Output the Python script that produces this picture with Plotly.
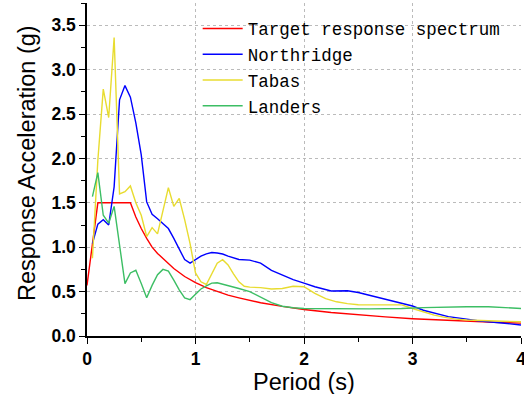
import plotly.graph_objects as go

# ---- data ----
target_T = [0.0, 0.1, 0.2, 0.3, 0.4, 0.45, 0.5, 0.55, 0.6, 0.65, 0.7, 0.8, 0.9, 1.0, 1.1, 1.2, 1.3, 1.4,
            1.5, 1.6, 1.8, 2.0, 2.25, 2.5, 2.75, 3.0, 3.25, 3.5, 3.75, 4.0]
target_S = [0.57, 1.50, 1.50, 1.50, 1.50, 1.34, 1.21, 1.10, 1.00, 0.93, 0.87, 0.76, 0.67, 0.60, 0.545, 0.50,
            0.46, 0.43, 0.40, 0.375, 0.333, 0.298, 0.265, 0.236, 0.215, 0.195, 0.180, 0.167, 0.155, 0.145]

north_T = [0.05, 0.1, 0.15, 0.2, 0.25, 0.3, 0.35, 0.4, 0.45, 0.5, 0.55, 0.6, 0.65, 0.7, 0.75, 0.8, 0.85,
           0.9, 0.95, 1.0, 1.05, 1.1, 1.15, 1.2, 1.25, 1.3, 1.35, 1.4, 1.5, 1.6, 1.7, 1.8, 1.9, 2.0, 2.1,
           2.25, 2.4, 2.5, 2.6, 2.7, 2.8, 2.9, 3.0, 3.1, 3.2, 3.33, 3.5, 3.6, 3.8, 4.0]
north_S = [1.04, 1.26, 1.31, 1.25, 1.68, 2.66, 2.82, 2.69, 2.40, 2.04, 1.51, 1.37, 1.32, 1.27, 1.21, 1.10, 0.98,
           0.86, 0.82, 0.86, 0.90, 0.925, 0.94, 0.935, 0.923, 0.90, 0.88, 0.862, 0.855, 0.82, 0.74, 0.69, 0.635,
           0.595, 0.555, 0.507, 0.51, 0.49, 0.46, 0.43, 0.40, 0.375, 0.338, 0.29, 0.255, 0.218, 0.19, 0.172,
           0.15, 0.124]

tabas_T = [0.05, 0.1, 0.15, 0.2, 0.25, 0.3, 0.35, 0.4, 0.45, 0.5, 0.55, 0.6, 0.65, 0.7, 0.75, 0.8, 0.85,
           0.9, 0.95, 1.0, 1.05, 1.1, 1.15, 1.2, 1.25, 1.3, 1.35, 1.4, 1.45, 1.5, 1.6, 1.7, 1.8, 1.9, 2.0,
           2.1, 2.2, 2.3, 2.4, 2.5, 2.7, 2.9, 3.0, 3.1, 3.2, 3.3, 3.4, 3.5, 3.75, 4.0]
tabas_S = [0.875, 1.98, 2.78, 2.46, 3.36, 1.60, 1.625, 1.69, 1.50, 1.36, 1.12, 1.22, 1.15, 1.41, 1.67, 1.46,
           1.55, 1.31, 1.04, 0.71, 0.61, 0.58, 0.70, 0.82, 0.86, 0.80, 0.70, 0.61, 0.56, 0.55, 0.545, 0.53,
           0.535, 0.56, 0.555, 0.48, 0.42, 0.385, 0.365, 0.352, 0.35, 0.35, 0.31, 0.27, 0.235, 0.21, 0.19,
           0.18, 0.17, 0.16]

landers_T = [0.05, 0.1, 0.15, 0.2, 0.25, 0.3, 0.35, 0.4, 0.45, 0.5, 0.55, 0.6, 0.65, 0.7, 0.75, 0.8, 0.85,
             0.9, 0.95, 1.0, 1.05, 1.1, 1.15, 1.2, 1.25, 1.3, 1.4, 1.5, 1.6, 1.7, 1.8, 1.9, 2.0, 2.3, 2.6,
             2.9, 3.1, 3.5, 3.7, 4.0]
landers_S = [1.57, 1.84, 1.36, 1.27, 1.46, 1.00, 0.59, 0.71, 0.74, 0.59, 0.43, 0.57, 0.69, 0.75, 0.73, 0.63,
             0.52, 0.43, 0.41, 0.47, 0.53, 0.565, 0.595, 0.60, 0.585, 0.565, 0.535, 0.50, 0.44, 0.375, 0.335,
             0.318, 0.31, 0.304, 0.306, 0.31, 0.32, 0.33, 0.33, 0.31]

names = ["Target response spectrum", "Northridge", "Tabas", "Landers"]
colors = ["#FF0000", "#0000FF", "#E8DC30", "#3CBE64"]
series = [(target_T, target_S), (north_T, north_S), (tabas_T, tabas_S), (landers_T, landers_S)]

x_ticks = [0, 1, 2, 3, 4]
y_ticks = [0.0, 0.5, 1.0, 1.5, 2.0, 2.5, 3.0, 3.5]

fig = go.Figure()
for (t, s), n, c in zip(series, names, colors):
    fig.add_trace(go.Scatter(x=t, y=s, mode="lines", name=n, line=dict(color=c, width=1.4)))

tickfont = dict(family="Liberation Sans, Arial, sans-serif", size=17.5, color="black", weight="bold")

fig.update_xaxes(
    range=[0, 4], tickvals=x_ticks, ticktext=[str(v) for v in x_ticks],
    ticklabeloverflow="allow",
    showline=True, linecolor="black", linewidth=1.5, mirror=False, zeroline=False,
    ticks="outside", ticklen=6, tickwidth=1.2, tickcolor="black", tickfont=tickfont,
    showgrid=True, gridcolor="#BBBBBB", griddash="dot", gridwidth=1,
    minor=dict(ticks="outside", ticklen=4, tickwidth=1, tickcolor="black", dtick=0.5, showgrid=False),
)
fig.update_yaxes(
    range=[0, 3.75], tickvals=y_ticks, ticktext=[f"{v:.1f}" for v in y_ticks],
    showline=True, linecolor="black", linewidth=1.5, mirror=False, zeroline=False,
    ticks="outside", ticklen=6, tickwidth=1.2, tickcolor="black", tickfont=tickfont,
    showgrid=True, gridcolor="#BBBBBB", griddash="dot", gridwidth=1,
    minor=dict(ticks="outside", ticklen=4, tickwidth=1, tickcolor="black", dtick=0.25, showgrid=False),
)

titlefont = dict(family="Liberation Sans, Arial, sans-serif", size=23.5, color="black")
fig.add_annotation(text="Period (s)", xref="paper", yref="paper", x=0.5, y=-0.137,
                   xanchor="center", yanchor="middle", showarrow=False, font=titlefont)
fig.add_annotation(text="Response Acceleration (g)", xref="paper", yref="paper", x=-0.138, y=0.52,
                   xanchor="center", yanchor="middle", textangle=-90, showarrow=False, font=titlefont)

fig.update_layout(
    width=524, height=394,
    margin=dict(l=87, r=3, t=3, b=58, autoexpand=False),
    plot_bgcolor="white", paper_bgcolor="white",
    showlegend=True,
    legend=dict(x=0.255, y=0.977, xanchor="left", yanchor="top", bgcolor="rgba(0,0,0,0)",
                borderwidth=0, itemwidth=40,
                font=dict(family="Liberation Mono, monospace", size=17.5, color="black"),
                tracegroupgap=0),
)

fig.write_html("out.html")
